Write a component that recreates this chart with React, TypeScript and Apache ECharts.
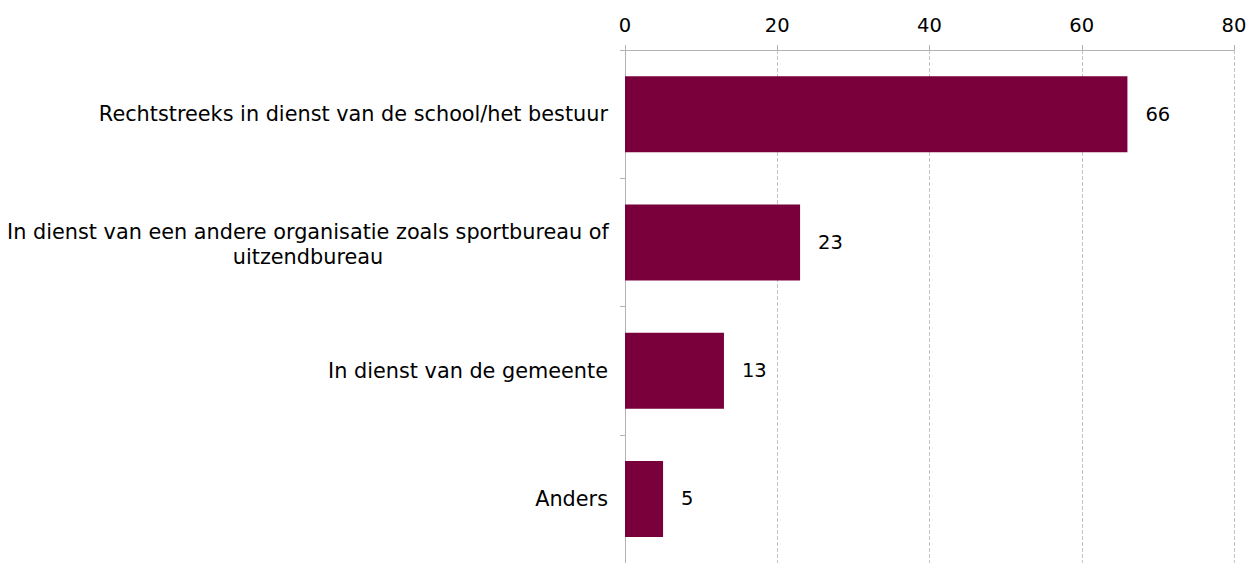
import React, { useEffect, useRef } from "react";
import * as echarts from "echarts";

const categories = [
  "Rechtstreeks in dienst van de school/het bestuur",
  "In dienst van een andere organisatie zoals sportbureau of\nuitzendbureau",
  "In dienst van de gemeente",
  "Anders",
];
const values = [66, 23, 13, 5];
const xTicks = { min: 0, max: 80, interval: 20 };

export default function App() {
  const ref = useRef<HTMLDivElement>(null);
  useEffect(() => {
    if (!ref.current) return;
    const chart = echarts.init(ref.current, null, { renderer: "svg" });
    const font = "DejaVu Sans";
    chart.setOption({
      animation: false,
      grid: { left: 625, right: 21, top: 50, height: 514, containLabel: false },
      xAxis: {
        type: "value",
        position: "top",
        min: xTicks.min,
        max: xTicks.max,
        interval: xTicks.interval,
        axisLine: { show: true, lineStyle: { color: "#b3b3b3", width: 1 } },
        axisTick: { show: true, length: 5, lineStyle: { color: "#b3b3b3" } },
        axisLabel: { color: "#000", fontFamily: font, fontSize: 19.5, margin: 15 },
        splitLine: { show: true, lineStyle: { color: "#c4c4c4", type: [4, 2] } },
      },
      yAxis: {
        type: "category",
        inverse: true,
        data: categories,
        axisLine: { show: true, lineStyle: { color: "#b3b3b3" } },
        axisTick: { show: true, length: 5, lineStyle: { color: "#b3b3b3" } },
        axisLabel: {
          color: "#000",
          fontFamily: font,
          fontSize: 20.8,
          margin: 17,
          lineHeight: 25,
          formatter: (v: string) =>
            v.includes("\n")
              ? v.split("\n").map((l) => `{c|${l}}`).join("\n")
              : v,
          rich: {
            c: { width: 600, align: "center", fontFamily: font, fontSize: 20.8, lineHeight: 25, color: "#000", padding: [4, 0, 0, 0] },
          },
        },
      },
      series: [
        {
          type: "bar",
          data: values,
          barWidth: 76,
          itemStyle: { color: "#7a003c" },
          label: {
            show: true,
            position: "right",
            distance: 18,
            color: "#000",
            fontFamily: font,
            fontSize: 19.5,
          },
        },
      ],
    });
    return () => chart.dispose();
  }, []);
  return <div ref={ref} style={{ width: 1255, height: 563, position: "absolute", left: 0, top: 0 }} />;
}
